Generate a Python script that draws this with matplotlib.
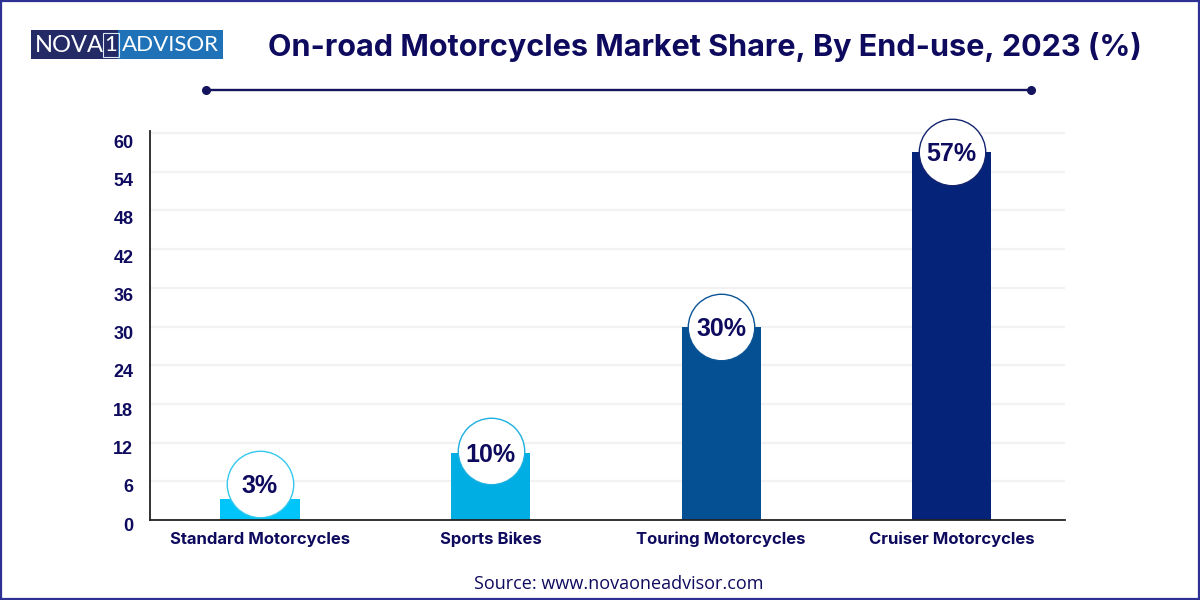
"""On-road motorcycles market share by end-use, bar chart with bubble labels."""

import matplotlib

matplotlib.use("Agg")
import matplotlib.pyplot as plt
from matplotlib.patches import Rectangle
from matplotlib.transforms import ScaledTranslation

categories = ["Standard Motorcycles", "Sports Bikes", "Touring Motorcycles", "Cruiser Motorcycles"]
# bar heights as drawn in the picture, the printed labels are rounded
shares = [3.2, 10.4, 30, 57]
share_labels = ["3%", "10%", "30%", "57%"]
y_ticks = [0, 6, 12, 18, 24, 30, 36, 42, 48, 54, 60]

bar_colors = ["#00C5FA", "#00AEE3", "#054F93", "#06237A"]
edge_colors = ["#35C8EE", "#1BB0E0", "#0B5596", "#14246E"]
NAVY = "#0E0B5E"
W, H = 1200, 600
PX_PER_UNIT = 6.45

plt.rcParams["font.family"] = ["Inter", "DejaVu Sans"]

fig = plt.figure(figsize=(12, 6), dpi=100, facecolor="white")

# overlay in pixel coordinates for frame, logo, title and rule
bg = fig.add_axes([0, 0, 1, 1], zorder=0)
bg.set_xlim(0, W)
bg.set_ylim(H, 0)
bg.axis("off")
bg.add_patch(Rectangle((1, 1), W - 2, H - 2, fill=False, ec="#2E3192", lw=1.6))
bg.add_patch(Rectangle((31, 30), 87, 29, fc="#232A66", ec="none"))
bg.add_patch(Rectangle((118, 30), 105, 29, fc="#1F72B8", ec="none"))
bg.add_patch(Rectangle((102.5, 32.5), 16, 24, fill=False, ec="#DDE8F5", lw=0.8))
logo_font = {"family": ["Lato", "DejaVu Sans"], "color": "white", "va": "center", "fontweight": "normal"}
bg.text(35, 45, "NOVA", ha="left", fontsize=17, **logo_font)
bg.text(110.5, 45, "1", ha="center", fontsize=16, **logo_font)
bg.text(122, 45, "ADVISOR", ha="left", fontsize=16, **logo_font)
bg.text(705, 47, "On-road Motorcycles Market Share, By End-use, 2023 (%)",
        ha="center", va="center", color=NAVY, fontsize=22, fontweight="bold")
bg.plot([206, 1031], [90, 90], color="#14145E", lw=1.7, solid_capstyle="butt")
bg.plot([206, 1031], [90, 90], ls="none", marker="o", ms=5.5, color="#14145E")
bg.text(619, 584, "Source: www.novaoneadvisor.com", ha="center", va="center",
        color=NAVY, fontsize=13, family=["Open Sans", "DejaVu Sans"])

# plot area: x 150-1065 px, zero line at y=520 px
ax = fig.add_axes([150 / W, 1 - 520 / H, 915 / W, 389 / H], zorder=1)
ax.patch.set_alpha(0)
xs = list(range(len(categories)))
ax.set_xlim(-0.477, 3.492)
ax.set_ylim(0, 389 / PX_PER_UNIT)
ax.grid(axis="y", color="#F2F2F2", lw=1.6)
ax.set_axisbelow(True)
ax.bar(xs, shares, width=0.343, color=bar_colors, zorder=2)

# bubble sits on the bar top but never crosses the baseline
for x, value, label, edge in zip(xs, shares, share_labels, edge_colors):
    cy = max(value, 5.6)
    ax.scatter([x], [cy + (0.35 if 5.6 < value < 20 else 0)], s=2290, facecolor="white",
               edgecolor=edge, linewidth=1, zorder=3, clip_on=False)
    ax.annotate(label, (x, cy), xytext=(0, -1.5), textcoords="offset points", ha="center", va="center",
                color=NAVY, fontsize=18, fontweight="bold",
                family=["Liberation Sans", "DejaVu Sans"], zorder=4)

for side in ("top", "right"):
    ax.spines[side].set_visible(False)
for side in ("left", "bottom"):
    ax.spines[side].set_color("#222222")
    ax.spines[side].set_linewidth(1.3)

ax.set_xticks(xs, categories)
ax.set_yticks(y_ticks)
ax.tick_params(axis="both", length=0)
ax.tick_params(axis="x", pad=8.5)
ax.tick_params(axis="y", pad=12)
for lab in ax.get_xticklabels():
    lab.set_color(NAVY)
    lab.set_fontweight("bold")
    lab.set_fontsize(12)
for lab in ax.get_yticklabels():
    lab.set_color(NAVY)
    lab.set_fontweight("bold")
    lab.set_fontsize(13)
    lab.set_family(["Liberation Sans", "DejaVu Sans"])
# y labels sit a little below their gridlines in the reference
for tick, value in zip(ax.yaxis.get_major_ticks(), y_ticks):
    shift = ScaledTranslation(0, -(3 + value / 21) / 72, fig.dpi_scale_trans)
    tick.label1.set_transform(tick.label1.get_transform() + shift)

fig.savefig("out.png", dpi=100, facecolor="white")
